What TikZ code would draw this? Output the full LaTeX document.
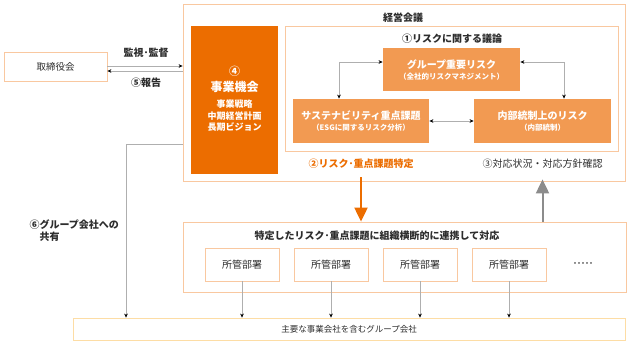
\documentclass[tikz,border=0pt]{standalone}
\usepackage{fontspec}
\setmainfont{Noto Sans CJK JP}
\usepackage{tikz}
\usetikzlibrary{positioning,arrows.meta,calc}
\definecolor{rkOrange}{RGB}{236,109,0}
\definecolor{rkMid}{RGB}{242,154,82}
\definecolor{rkLine}{RGB}{249,200,160}
\definecolor{rkPale}{RGB}{253,221,165}
\definecolor{rkText}{RGB}{45,45,45}
\definecolor{rkGray}{RGB}{140,140,140}
\newcommand\rksub{\fontsize{7.5}{9}\selectfont}

\begin{document}
\begin{tikzpicture}[
  x=1pt, y=-1pt,
  font=\fontsize{10}{12}\selectfont, text=rkText,
  box/.style={draw=rkLine, line width=0.8pt, align=center, inner sep=0pt},
  frame/.style={box, fill=white},
  risk/.style={box, draw=none, fill=rkMid, text=white, minimum width=137pt, minimum height=44pt,
    font=\fontsize{10}{12}\selectfont\bfseries},
  dept/.style={box, fill=white, minimum width=74pt, minimum height=33pt},
  lbl/.style={font=\fontsize{10}{12}\selectfont\bfseries},
  ar/.style={draw=rkGray!70, line width=0.6pt, -{Stealth[length=4pt, width=3.6pt, color=black]}},
  biar/.style={ar, {Stealth[length=4pt, width=3.6pt, color=black]}-{Stealth[length=4pt, width=3.6pt, color=black]}},
  bigar/.style={line width=2pt, -{Triangle[length=14pt, width=13pt]}}
]
  \useasboundingbox (0,0) rectangle (628,353);
  % boxes
  \node[frame, minimum width=103pt, minimum height=29pt, font=\fontsize{9.5}{11}\selectfont] (board) at (55.5,66.5) {取締役会};
  \node[frame, minimum width=442pt, minimum height=177pt] (keiei) at (404,92.5) {};
  \node[lbl] at (403,18) {経営会議};
  \node[box, draw=none, fill=rkOrange, text=white, minimum width=87pt, minimum height=148pt] (jigyo) at (234.5,100) {};
  \node[text=white, font=\fontsize{11}{12}\selectfont\bfseries] at (234.5,71) {④};
  \node[text=white, font=\fontsize{12}{14}\selectfont\bfseries] at (234.5,86.5) {事業機会};
  \node[text=white, font=\fontsize{9}{11.5}\selectfont\bfseries, align=center] at (234.5,116) {事業戦略\\中期経営計画\\長期ビジョン};
  \node[frame, minimum width=333pt, minimum height=125pt] (giron) at (451.5,88.5) {};
  \node[lbl] at (452,39) {①リスクに関する議論};
  \node[risk, minimum height=43pt] (grp) at (451.5,69.5) {グループ重要リスク\\[-1pt]{\rksub（全社的リスクマネジメント）}};
  \node[risk, minimum width=136pt] (sus) at (361,121) {サステナビリティ重点課題\\[-1pt]{\rksub（ESGに関するリスク分析）}};
  \node[risk] (nai) at (542.5,121) {内部統制上のリスク\\[-1pt]{\rksub（内部統制）}};
  \node[lbl, text=rkOrange] (tokutei) at (361,164) {②リスク･重点課題特定};
  \node[font=\fontsize{10}{12}\selectfont] (kakunin) at (542.5,164) {③対応状況・対応方針確認};
  \node[frame, minimum width=443pt, minimum height=70pt] (taio) at (404.5,257) {};
  \node[lbl] at (377,235.5) {特定したリスク･重点課題に組織横断的に連携して対応};
  \node[dept] (d1) at (242,264.5) {所管部署};
  \node[dept] (d2) at (331,264.5) {所管部署};
  \node[dept] (d3) at (420,264.5) {所管部署};
  \node[dept] (d4) at (509,264.5) {所管部署};
  \node[font=\fontsize{8}{10}\selectfont\bfseries] (more) at (583,265) {･････};
  \node[frame, draw=rkPale, minimum width=552pt, minimum height=22pt, font=\fontsize{8.5}{10}\selectfont] (grpco) at (349,329) {主要な事業会社を含むグループ会社};
  % labels on the left
  \node[lbl] (kanshi) at (146,53) {監視･監督};
  \node[lbl] (hokoku) at (146,83) {⑤報告};
  \node[lbl, align=left, anchor=west] (kyoyu) at (26,231) {⑥グループ会社への\\\phantom{⑥}共有};
  \coordinate (shr) at (126,144);
  % connectors
  \draw[ar] ([yshift=0.5pt]board.east) -- ([yshift=0.5pt]board.east -| keiei.west);
  \draw[ar] ([yshift=-4.5pt]board.east -| keiei.west) -- ([yshift=-4.5pt]board.east);
  \draw[biar] ([xshift=-22pt]sus.north) |- ([yshift=7.5pt]grp.west);
  \draw[biar] ([yshift=7.5pt]grp.east) -| ([xshift=21.5pt]nai.north);
  \draw[biar] (sus) -- (nai);
  \draw[bigar, draw=rkOrange, fill=rkOrange] ([yshift=4pt]tokutei.south |- keiei.south) -- (tokutei.south |- taio.north);
  \draw[bigar, draw=rkGray, fill=rkGray] (kakunin.south |- taio.north) -- ([yshift=2pt]kakunin.south |- keiei.south);
  \draw[ar] (keiei.west |- shr) -- (shr) -- (shr |- grpco.north);
  \foreach \d in {d1,d2,d3,d4}
    \draw[ar] (\d.south) -- (\d.south |- grpco.north);
\end{tikzpicture}
\end{document}
